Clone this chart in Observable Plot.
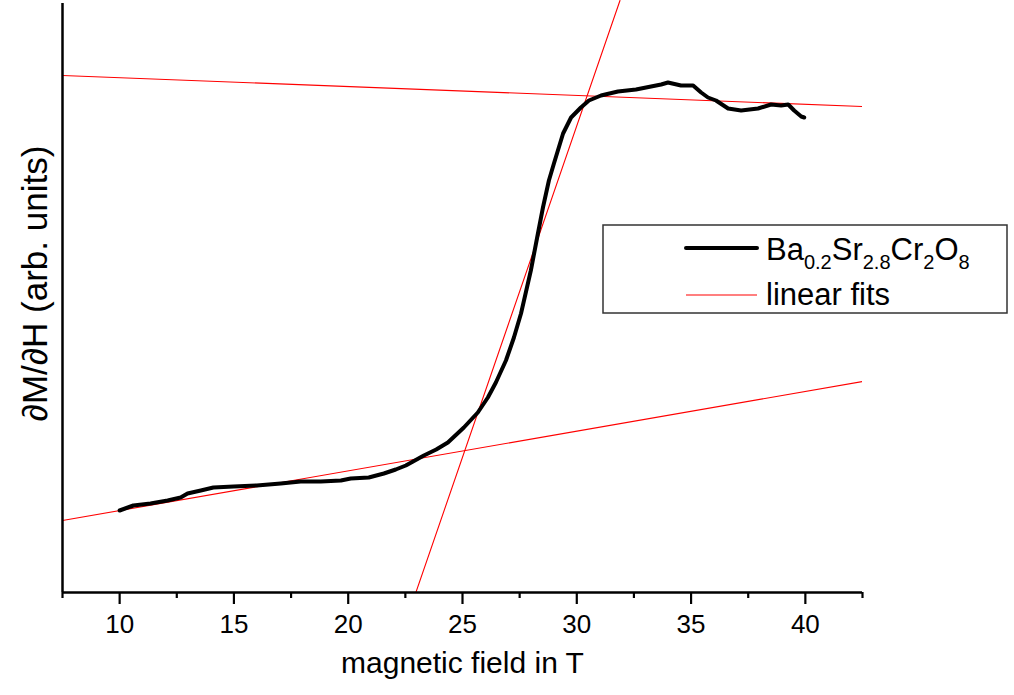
<!DOCTYPE html>
<html>
<head>
<meta charset="utf-8">
<script src="https://cdn.jsdelivr.net/npm/d3@7"></script>
<script src="https://cdn.jsdelivr.net/npm/@observablehq/plot@0.6"></script>
<style>
  html, body { margin: 0; padding: 0; background: #fff; }
  #chart { position: relative; width: 1014px; height: 695px; }
</style>
</head>
<body>
<div id="chart"></div>
<script>
// Measured curve: field (T) vs dM/dH (arbitrary units)
const fieldT = [10.0, 10.6, 11.35, 12.1, 12.67, 12.97, 13.55, 14.1, 14.99, 16.0, 17.05, 17.92, 18.8, 19.68, 20.11, 20.9, 21.56, 22.08, 22.52, 23.31, 23.85, 24.36, 25.06, 25.67, 26.11, 26.46, 26.9, 27.25, 27.56, 27.99, 28.3, 28.52, 28.78, 29.0, 29.4, 29.75, 30.18, 30.53, 31.06, 31.8, 32.59, 33.25, 33.69, 33.99, 34.56, 35.09, 35.44, 35.74, 36.09, 36.62, 37.19, 37.93, 38.5, 38.94, 39.25, 39.51, 39.82, 39.95];
const dMdH = [82, 87, 89, 92, 95, 99, 102, 105, 106, 107, 109, 111, 111, 112, 114, 115, 119, 123, 127, 137, 143, 150, 165, 180, 195, 210, 232, 255, 279, 322, 359, 385, 412, 429, 459, 475, 485, 492, 497, 501, 503, 506, 508, 510, 507, 507, 500, 495, 492, 484, 482, 484, 488, 487, 488, 482, 476, 475];

// Linear fits: each as two endpoints
const fitNames = ["upper", "upper", "lower", "lower", "steep", "steep"];
const fitX = [7.5, 42.5, 7.5, 42.5, 22.96, 31.89];
const fitY = [517, 486, 72, 211, 0, 592];

const majorTicks = [10, 15, 20, 25, 30, 35, 40];
const minorTicks = [7.5, 12.5, 17.5, 22.5, 27.5, 32.5, 37.5, 42.5];
const xLabel = "magnetic field in T";
const yLabel = "\u2202M/\u2202H (arb. units)";
const legendLabels = ["Ba0.2Sr2.8Cr2O8", "linear fits"];

const curve = fieldT.map((x, i) => ({x, y: dMdH[i]}));
const fits = fitX.map((x, i) => ({name: fitNames[i], x, y: fitY[i]}));

const font = "'Liberation Sans', Arial, sans-serif";

const plot = Plot.plot({
  width: 1014,
  height: 695,
  marginLeft: 62,
  marginRight: 152,
  marginTop: 0,
  marginBottom: 103,
  style: {fontFamily: font, background: "#fff", color: "#000", overflow: "visible"},
  x: {domain: [7.5, 42.5]},
  y: {domain: [0, 592], axis: null},
  marks: [
    Plot.line(fits, {x: "x", y: "y", z: "name", stroke: "#ff0000", strokeWidth: 1.1, clip: true}),
    Plot.line(curve, {x: "x", y: "y", stroke: "#000", strokeWidth: 4, strokeLinejoin: "round", strokeLinecap: "round"}),
    Plot.axisX({ticks: majorTicks, tickSize: 12, tickPadding: 10, strokeWidth: 2.2, fontSize: 26, label: null}),
    Plot.axisX({ticks: minorTicks, tickSize: 6, strokeWidth: 2.2, tickFormat: () => "", label: null}),
    Plot.ruleY([0], {stroke: "#000", strokeWidth: 2.5}),
    Plot.ruleX([7.5], {y1: 0, y2: 589, stroke: "#000", strokeWidth: 2.5}),
    Plot.text([xLabel], {x: [25], frameAnchor: "bottom", dy: 80, fontSize: 30, text: d => d}),
    Plot.text([yLabel], {y: [309], frameAnchor: "left", textAnchor: "middle", dx: -27, rotate: -90, fontSize: 35, text: d => d})
  ]
});

document.getElementById("chart").appendChild(plot);

// Legend drawn inside the plot area
const svg = d3.select(plot);
const lg = svg.append("g").attr("font-family", font).attr("fill", "#000").attr("text-anchor", "start");
lg.append("rect").attr("x", 603).attr("y", 225).attr("width", 404).attr("height", 88)
  .attr("fill", "#fff").attr("stroke", "#333").attr("stroke-width", 1.5);
lg.append("line").attr("x1", 686).attr("x2", 757).attr("y1", 248).attr("y2", 248)
  .attr("stroke", "#000").attr("stroke-width", 4).attr("stroke-linecap", "round");
lg.append("line").attr("x1", 686).attr("x2", 757).attr("y1", 295).attr("y2", 295)
  .attr("stroke", "#ff0000").attr("stroke-width", 1.1);
const t1 = lg.append("text").attr("x", 766).attr("y", 260).attr("font-size", 31);
const parts = [["Ba", false], ["0.2", true], ["Sr", false], ["2.8", true], ["Cr", false], ["2", true], ["O", false], ["8", true]];
parts.forEach(([s, sub], i) => {
  const ts = t1.append("tspan").text(s);
  if (sub) ts.attr("font-size", 20).attr("dy", 9);
  else if (i > 0) ts.attr("dy", -9);
});
lg.append("text").attr("x", 766).attr("y", 305).attr("font-size", 31).text(legendLabels[1]);
</script>
</body>
</html>
